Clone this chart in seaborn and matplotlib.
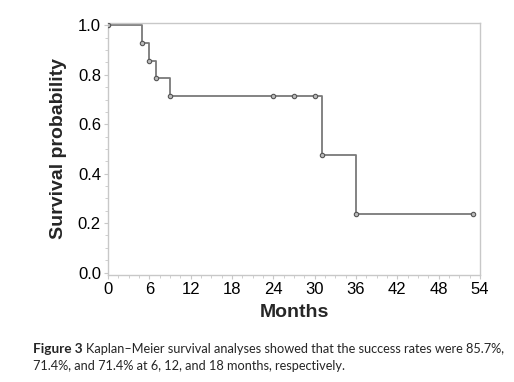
import seaborn as sns
import pandas as pd
from matplotlib import pyplot as plt
from matplotlib.ticker import MultipleLocator

# Kaplan-Meier curve
months = [0, 5, 6, 7, 9, 24, 27, 30, 31, 36, 53]
survival = [1.0, 0.929, 0.857, 0.786, 0.714, 0.714, 0.714, 0.714, 0.476, 0.238, 0.238]

km = pd.DataFrame({'Months': months, 'Survival': survival})

sns.set_style('ticks')
plt.rcParams['font.family'] = ['Liberation Sans', 'DejaVu Sans']

fig = plt.figure(figsize=(5.14, 3.82), dpi=100)
ax = fig.add_axes([0.210, 0.280, 0.724, 0.660])

sns.lineplot(x='Months', y='Survival', data=km, drawstyle='steps-post',
             color='#7a7a7a', linewidth=1.3, ax=ax)
sns.scatterplot(x='Months', y='Survival', data=km, ax=ax, s=10,
                facecolor='#bbbbbb', edgecolor='#555555', linewidth=0.8, zorder=3)

ax.set_xlim(0, 54)
ax.set_ylim(-0.01, 1.01)
ax.xaxis.set_major_locator(MultipleLocator(6))
ax.xaxis.set_minor_locator(MultipleLocator(1.5))
ax.yaxis.set_minor_locator(MultipleLocator(0.05))
ax.set_yticks([0.0, 0.2, 0.4, 0.6, 0.8, 1.0])
ax.set_yticklabels(['0.0', '0.2', '0.4', '0.6', '0.8', '1.0'])

for side in ['left', 'bottom', 'right', 'top']:
    ax.spines[side].set_visible(True)
    ax.spines[side].set_color('#c8c8c8')
    ax.spines[side].set_linewidth(1.0)

ax.tick_params(axis='both', which='major', length=3, color='#c8c8c8',
               labelsize=12, labelcolor='black', pad=2)
ax.tick_params(axis='both', which='minor', length=2, color='#c8c8c8')

ax.set_xlabel('Months', fontsize=14, fontweight='bold', labelpad=5)
ax.set_ylabel('Survival probability', fontsize=14, fontweight='bold', labelpad=8)

# caption below the chart
cap_font = ['Lato', 'DejaVu Sans']
t1 = fig.text(0.064, 0.076, 'Figure 3', fontsize=9.8, fontweight='bold',
              family=cap_font, va='baseline')
fig.canvas.draw()
bb = t1.get_window_extent().transformed(fig.transFigure.inverted())
fig.text(bb.x1 + 0.006, 0.076,
         'Kaplan–Meier survival analyses showed that the success rates were 85.7%,',
         fontsize=9.2, family=cap_font, va='baseline')
fig.text(0.064, 0.031, '71.4%, and 71.4% at 6, 12, and 18 months, respectively.',
         fontsize=9.2, family=cap_font, va='baseline')

plt.savefig('out.png', dpi=100)
